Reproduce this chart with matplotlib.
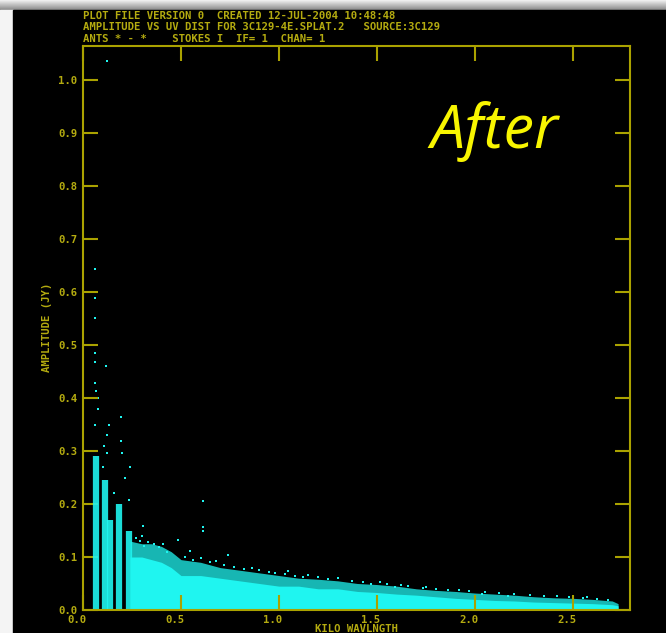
import numpy as np
import matplotlib
matplotlib.use("Agg")
import matplotlib.pyplot as plt
import matplotlib.transforms as mtrans
from matplotlib.patches import Rectangle

# short-spacing baseline tracks: uv distance (kilo-lambda) and top of the dense track
streak_uv = [0.068, 0.112, 0.138, 0.186, 0.236]
streak_top = [0.29, 0.245, 0.17, 0.20, 0.15]

# bulk of the visibilities: upper edge of the solid core and of the scattered fringe
band_uv = [0.24, 0.30, 0.35, 0.40, 0.45, 0.50, 0.60, 0.70, 0.80, 0.90, 1.00, 1.10,
           1.20, 1.30, 1.40, 1.50, 1.60, 1.70, 1.80, 1.90, 2.00, 2.10, 2.20, 2.30,
           2.40, 2.50, 2.60, 2.70, 2.73]
band_core = [0.10, 0.10, 0.095, 0.09, 0.08, 0.065, 0.065, 0.06, 0.055, 0.05, 0.045, 0.045,
             0.04, 0.04, 0.035, 0.033, 0.03, 0.028, 0.025, 0.022, 0.02, 0.018, 0.017, 0.015,
             0.014, 0.013, 0.012, 0.010, 0.008]
band_fringe = [0.13, 0.125, 0.125, 0.12, 0.11, 0.095, 0.09, 0.08, 0.075, 0.07, 0.065, 0.06,
               0.058, 0.055, 0.05, 0.048, 0.045, 0.04, 0.037, 0.035, 0.032, 0.03, 0.028, 0.025,
               0.023, 0.022, 0.02, 0.017, 0.012]

# scattered points along the top of the band
fringe_uv = [0.27, 0.29, 0.33, 0.36, 0.31, 0.39, 0.43, 0.41, 0.52, 0.56, 0.60, 0.65,
             0.68, 0.72, 0.77, 0.82, 0.86, 0.90, 0.95, 0.98, 1.03, 1.08, 1.12, 1.20,
             1.25, 1.30, 1.37, 1.43, 1.47, 1.55, 1.62, 1.66, 1.75, 1.80, 1.86, 1.92,
             1.97, 2.05, 2.12, 2.20, 2.28, 2.35, 2.42, 2.48, 2.55, 2.62, 2.68]
fringe_amp = [0.135, 0.13, 0.128, 0.125, 0.12, 0.118, 0.11, 0.125, 0.10, 0.095, 0.098, 0.09,
              0.092, 0.085, 0.082, 0.078, 0.08, 0.075, 0.072, 0.07, 0.068, 0.064, 0.062, 0.062,
              0.058, 0.06, 0.055, 0.052, 0.05, 0.05, 0.048, 0.046, 0.043, 0.04, 0.038, 0.037,
              0.035, 0.034, 0.033, 0.031, 0.028, 0.027, 0.026, 0.024, 0.022, 0.021, 0.018]

# isolated high-amplitude points
pts_uv = [0.122, 0.061, 0.061, 0.061, 0.061, 0.061, 0.117, 0.061, 0.065, 0.077, 0.074,
          0.194, 0.061, 0.134, 0.121, 0.194, 0.197, 0.122, 0.24, 0.236, 0.308, 0.614,
          0.614, 0.614, 0.486, 0.546, 0.738, 1.044, 1.15, 1.515, 1.59, 1.736, 2.034,
          2.17, 2.57, 0.10, 0.105, 0.16, 0.215, 0.30]
pts_amp = [1.036, 0.643, 0.589, 0.551, 0.485, 0.468, 0.46, 0.428, 0.413, 0.40, 0.38,
           0.364, 0.35, 0.35, 0.33, 0.318, 0.296, 0.296, 0.269, 0.208, 0.159, 0.206,
           0.157, 0.15, 0.132, 0.111, 0.104, 0.074, 0.066, 0.052, 0.044, 0.041, 0.03,
           0.027, 0.025, 0.27, 0.31, 0.22, 0.25, 0.14]

xticks = [0.0, 0.5, 1.0, 1.5, 2.0, 2.5]
yticks = [0.0, 0.1, 0.2, 0.3, 0.4, 0.5, 0.6, 0.7, 0.8, 0.9, 1.0]

header = ["PLOT FILE VERSION 0  CREATED 12-JUL-2004 10:48:48",
          "AMPLITUDE VS UV DIST FOR 3C129-4E.SPLAT.2   SOURCE:3C129",
          "ANTS * - *    STOKES I  IF= 1  CHAN= 1"]

YEL = "#aaa200"
TXT = "#b4ab10"
CYAN = "#1ff5f0"
mono = "DejaVu Sans Mono"

fig = plt.figure(figsize=(6.66, 6.33), dpi=100, facecolor="#f2f2f2")

# slide frame: grey shadow on top, black plot panel
bg = fig.add_axes([0, 0, 1, 1])
bg.set_xlim(0, 666)
bg.set_ylim(633, 0)
bg.axis("off")
shade = np.linspace(0.93, 0.55, 10).reshape(-1, 1) * np.ones((1, 2))
bg.imshow(shade, cmap="gray", vmin=0, vmax=1, extent=[0, 666, 10, 0], aspect="auto")
bg.add_patch(Rectangle((0, 10), 13, 623, color="#f4f4f4"))
bg.add_patch(Rectangle((13, 10), 653, 623, color="black"))

ax = fig.add_axes([83 / 666, 23 / 633, 547 / 666, 564 / 633])
ax.set_facecolor("none")
ax.set_xlim(0, 547 / 196)
ax.set_ylim(0, 564 / 530)

ax.fill_between(band_uv, 0, band_fringe, color=CYAN, alpha=0.75, lw=0)
ax.fill_between(band_uv, 0, band_core, color=CYAN, lw=0)
ax.vlines(streak_uv, 0, streak_top, color=CYAN, lw=4.5, alpha=0.9)
ax.scatter(fringe_uv, fringe_amp, s=3, marker="s", color=CYAN, lw=0)
ax.scatter(pts_uv, pts_amp, s=2.5, marker="s", color=CYAN, lw=0)

for s in ax.spines.values():
    s.set_color(YEL)
    s.set_linewidth(1.5)
    s.set_zorder(5)

ax.set_xticks(xticks)
ax.set_yticks(yticks)
ax.set_xticklabels(["%.1f" % v for v in xticks])
ax.set_yticklabels(["%.1f" % v for v in yticks])
ax.tick_params(direction="in", length=10.5, width=1.5, color=YEL,
               top=True, right=True, labelcolor=TXT, labelsize=7.7)
ax.tick_params(axis="x", pad=3.5)
ax.tick_params(axis="y", pad=4.3)
for lab in ax.get_xticklabels() + ax.get_yticklabels():
    lab.set_family(mono)
    lab.set_weight("bold")
shift = mtrans.ScaledTranslation(-6 / 100, 0, fig.dpi_scale_trans)
for lab in ax.get_xticklabels():
    lab.set_transform(lab.get_transform() + shift)

fig.text(356 / 666, 1 - 629 / 633, "KILO WAVLNGTH", color=TXT, fontsize=7.7,
         family=mono, weight="bold", ha="center", va="center")
fig.text(47 / 666, 1 - 327 / 633, "AMPLITUDE (JY)", color=TXT, fontsize=7.7,
         family=mono, weight="bold", ha="center", va="center", rotation=90)

for i, line in enumerate(header):
    fig.text(83 / 666, 1 - (16 + 11.5 * i) / 633, line, color=TXT, fontsize=7.7,
             family=mono, weight="bold", ha="left", va="center")

fig.text(494 / 666, 1 - 132 / 633, "After", color="#f8f500", fontsize=44,
         family="Open Sans", style="italic", ha="center", va="center")

fig.savefig("out.png", dpi=100, facecolor=fig.get_facecolor())
